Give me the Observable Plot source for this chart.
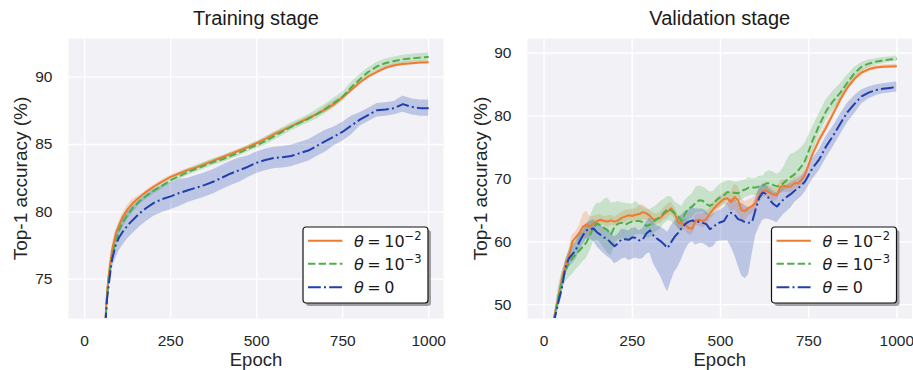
<!DOCTYPE html>
<html>
<head>
<meta charset="utf-8">
<script src="https://cdn.jsdelivr.net/npm/d3@7"></script>
<script src="https://cdn.jsdelivr.net/npm/@observablehq/plot@0.6"></script>
<style>
  html, body { margin: 0; padding: 0; background: #ffffff; }
  #wrap { display: flex; width: 913px; height: 370px; }
  #wrap svg { display: block; }
</style>
</head>
<body>
<div id="wrap"></div>
<script>
// ---------------- Data ----------------
const seriesNames = ["θ = 10^-2", "θ = 10^-3", "θ = 0"];
const seriesColors = ["#f07a2e", "#4daf4a", "#1f3fae"];
const xTicks = [0, 250, 500, 750, 1000];
const trainYTicks = [75, 80, 85, 90];
const valYTicks = [50, 60, 70, 80, 90];

// Training stage
const trainEpoch = [55, 60, 65, 70, 75, 80, 90, 100, 110, 125, 140, 160, 180, 200, 225, 250, 275, 300, 325, 350, 375, 400, 425, 450, 475, 500, 525, 550, 575, 600, 625, 650, 675, 700, 725, 750, 775, 800, 825, 850, 875, 900, 925, 950, 975, 1000];
const trainOrange = [70.0, 71.8, 73.9, 75.3, 76.3, 77.2, 78.3, 79.0, 79.6, 80.2, 80.65, 81.1, 81.5, 81.85, 82.25, 82.6, 82.85, 83.1, 83.3, 83.55, 83.8, 84.05, 84.3, 84.55, 84.8, 85.1, 85.4, 85.75, 86.05, 86.35, 86.65, 86.95, 87.25, 87.6, 88.0, 88.5, 89.05, 89.6, 90.05, 90.4, 90.7, 90.88, 90.98, 91.04, 91.08, 91.1];
const trainOrangeSpread = [0.4, 0.4, 0.4, 0.4, 0.4, 0.4, 0.3, 0.3, 0.3, 0.3, 0.3, 0.12, 0.12, 0.12, 0.12, 0.12, 0.12, 0.12, 0.12, 0.12, 0.12, 0.12, 0.12, 0.12, 0.12, 0.12, 0.12, 0.12, 0.12, 0.12, 0.12, 0.12, 0.12, 0.25, 0.25, 0.12, 0.12, 0.12, 0.12, 0.12, 0.12, 0.12, 0.12, 0.12, 0.12, 0.12];
const trainGreen = [70.0, 71.7, 73.7, 75.0, 75.9, 76.7, 77.8, 78.6, 79.2, 79.8, 80.3, 80.8, 81.2, 81.55, 81.95, 82.35, 82.65, 82.95, 83.2, 83.45, 83.7, 83.9, 84.15, 84.4, 84.7, 84.95, 85.25, 85.6, 85.95, 86.3, 86.6, 86.9, 87.25, 87.65, 88.1, 88.55, 89.25, 89.85, 90.4, 90.8, 91.05, 91.2, 91.32, 91.4, 91.45, 91.5];
const trainGreenSpread = [0.5, 0.5, 0.5, 0.5, 0.5, 0.5, 0.4, 0.4, 0.4, 0.4, 0.4, 0.25, 0.25, 0.25, 0.25, 0.25, 0.25, 0.25, 0.25, 0.25, 0.25, 0.25, 0.25, 0.25, 0.25, 0.25, 0.3, 0.3, 0.3, 0.3, 0.3, 0.3, 0.35, 0.35, 0.35, 0.35, 0.35, 0.35, 0.3, 0.3, 0.3, 0.3, 0.3, 0.3, 0.3, 0.3];
const trainBlue = [70.0, 71.6, 73.5, 74.6, 75.6, 76.5, 77.5, 78.1, 78.5, 79.0, 79.4, 79.9, 80.3, 80.65, 80.95, 81.15, 81.4, 81.6, 81.8, 82.0, 82.25, 82.55, 82.85, 83.1, 83.35, 83.65, 83.85, 84.0, 84.05, 84.15, 84.35, 84.55, 84.9, 85.25, 85.6, 85.95, 86.4, 86.85, 87.2, 87.55, 87.6, 87.7, 88.0, 87.8, 87.7, 87.7];
const trainBlueSpread = [0.6, 0.6, 0.6, 0.6, 0.6, 0.6, 1.0, 1.0, 1.0, 1.0, 1.0, 1.0, 1.0, 1.0, 1.0, 1.0, 1.0, 0.9, 0.9, 0.9, 0.9, 0.9, 0.9, 0.9, 0.8, 0.8, 0.8, 0.8, 0.8, 0.8, 0.8, 0.8, 0.8, 0.8, 0.7, 0.7, 0.7, 0.5, 0.5, 0.5, 0.5, 0.5, 0.6, 0.6, 0.6, 0.6];

// Validation stage
const valEpoch = [20, 30, 40, 50, 60, 70, 80, 90, 100, 110, 120, 130, 140, 150, 160, 170, 180, 190, 200, 210, 220, 230, 240, 250, 260, 270, 280, 290, 300, 310, 320, 330, 340, 350, 360, 370, 380, 390, 400, 410, 420, 430, 440, 450, 460, 470, 480, 490, 500, 510, 520, 530, 540, 550, 560, 570, 580, 590, 600, 610, 620, 630, 640, 650, 660, 670, 680, 690, 700, 710, 720, 730, 740, 760, 780, 800, 820, 840, 860, 880, 900, 920, 940, 960, 980, 1000];
const valOrange = [44.0, 48.3, 51.0, 54.0, 56.0, 57.6, 60.0, 60.7, 61.4, 62.4, 62.7, 62.4, 62.9, 63.3, 63.5, 63.3, 63.2, 63.4, 63.2, 63.4, 63.8, 64.0, 64.2, 64.1, 64.3, 64.4, 64.7, 64.5, 64.1, 63.5, 63.6, 63.8, 64.4, 64.8, 65.3, 64.6, 63.1, 62.9, 62.7, 62.2, 62.1, 63.4, 63.5, 63.3, 63.6, 64.5, 65.2, 65.8, 66.3, 66.8, 66.9, 66.3, 67.1, 66.6, 65.0, 64.9, 65.4, 65.7, 66.2, 67.4, 68.0, 68.1, 67.8, 67.5, 67.4, 68.7, 68.9, 68.7, 68.8, 69.3, 69.3, 69.8, 70.7, 73.8, 76.2, 78.2, 80.4, 82.6, 84.5, 85.9, 86.9, 87.4, 87.7, 87.8, 87.85, 87.9];
const valOrangeSpread = [0.3, 0.4, 0.7, 0.9, 0.8, 1.0, 1.1, 0.9, 1.2, 1.9, 2.2, 1.6, 1.1, 0.9, 0.8, 0.7, 0.9, 0.8, 0.7, 0.9, 0.8, 1.0, 0.8, 1.1, 0.9, 1.3, 1.2, 1.0, 0.9, 1.0, 0.8, 0.9, 1.0, 1.1, 1.0, 0.9, 1.1, 1.0, 0.9, 1.1, 1.0, 0.9, 1.0, 1.1, 1.0, 0.9, 1.1, 1.0, 1.0, 0.9, 1.1, 1.5, 2.0, 2.2, 1.8, 1.5, 1.3, 1.2, 1.1, 1.0, 1.1, 0.9, 1.0, 1.1, 0.9, 1.0, 1.0, 0.9, 1.0, 0.9, 1.0, 0.9, 0.8, 0.7, 0.6, 0.6, 0.6, 0.5, 0.5, 0.4, 0.4, 0.4, 0.3, 0.3, 0.3, 0.3];
const valGreen = [44.0, 48.2, 51.2, 53.5, 55.3, 56.6, 57.4, 58.0, 58.6, 59.2, 59.9, 61.0, 62.3, 62.9, 62.6, 62.2, 61.8, 61.2, 62.4, 62.9, 63.0, 62.7, 63.0, 63.2, 63.3, 63.3, 63.1, 62.5, 62.7, 63.2, 63.6, 64.0, 64.6, 65.2, 65.0, 64.5, 64.0, 63.3, 64.5, 65.3, 65.6, 66.2, 66.6, 66.5, 66.0, 65.7, 66.0, 66.7, 67.1, 67.4, 67.9, 67.8, 67.8, 67.7, 68.1, 68.3, 68.6, 68.6, 68.6, 68.8, 68.9, 69.3, 69.3, 69.0, 68.8, 68.9, 69.4, 69.9, 70.3, 70.7, 71.3, 72.0, 72.9, 75.9, 78.5, 80.8, 82.4, 83.7, 85.3, 86.8, 87.8, 88.3, 88.6, 88.8, 88.95, 89.1];
const valGreenUp = [0.5, 0.6, 1.5, 1.6, 1.5, 2.0, 2.2, 2.0, 2.5, 2.4, 2.6, 2.8, 3.0, 3.2, 3.5, 4.5, 5.2, 5.0, 3.8, 3.5, 3.2, 3.4, 3.0, 2.8, 3.1, 2.6, 2.4, 2.7, 2.4, 2.3, 2.2, 2.4, 2.1, 2.0, 2.2, 1.9, 2.0, 2.3, 2.1, 1.9, 2.0, 2.4, 2.3, 2.2, 2.4, 2.2, 2.0, 1.9, 2.1, 2.0, 1.8, 1.9, 1.7, 1.8, 1.6, 1.5, 1.6, 1.4, 1.5, 1.6, 1.5, 1.8, 2.0, 2.1, 1.9, 2.2, 2.5, 3.2, 3.6, 3.4, 3.2, 3.0, 2.8, 2.2, 1.9, 1.8, 1.6, 1.4, 1.2, 0.9, 0.7, 0.6, 0.5, 0.5, 0.4, 0.4];
const valGreenDown = [0.5, 0.6, 1.5, 1.6, 1.8, 2.4, 2.6, 2.5, 2.5, 2.4, 2.6, 2.5, 2.4, 2.6, 2.8, 3.2, 3.6, 3.4, 3.0, 2.6, 2.5, 2.4, 2.6, 2.4, 2.2, 2.1, 2.0, 1.9, 2.1, 2.0, 1.9, 2.0, 1.8, 1.9, 1.7, 1.8, 1.9, 1.7, 1.8, 1.9, 1.8, 1.7, 1.9, 1.8, 1.7, 1.8, 1.6, 1.5, 1.6, 1.5, 1.4, 1.6, 1.5, 1.4, 1.5, 1.3, 1.4, 1.2, 1.3, 1.3, 1.2, 1.4, 1.3, 1.2, 1.3, 1.2, 1.3, 1.2, 1.2, 1.1, 1.2, 1.3, 1.4, 1.6, 1.5, 1.5, 1.4, 1.3, 1.1, 0.9, 0.7, 0.6, 0.5, 0.5, 0.4, 0.4];
const valBlue = [43.5, 47.8, 50.3, 52.5, 55.8, 57.3, 58.0, 58.7, 60.0, 61.0, 61.8, 62.0, 62.1, 61.5, 61.1, 60.7, 60.4, 59.8, 59.3, 59.8, 60.4, 60.4, 60.3, 60.7, 60.6, 60.2, 60.4, 61.3, 61.8, 61.0, 60.5, 60.1, 59.6, 59.0, 59.9, 60.8, 61.4, 62.2, 62.8, 63.2, 63.4, 63.1, 63.2, 63.0, 62.8, 62.0, 62.3, 62.9, 63.1, 63.3, 64.2, 64.6, 64.3, 63.6, 63.4, 63.1, 63.0, 63.2, 65.2, 67.0, 67.8, 67.6, 66.6, 66.0, 65.6, 66.2, 66.8, 67.2, 67.6, 68.1, 68.5, 69.0, 69.6, 71.6, 73.1, 75.2, 76.9, 78.8, 80.6, 81.9, 83.1, 83.7, 84.1, 84.3, 84.45, 84.6];
const valBlueUp = [0.5, 0.6, 1.0, 1.0, 1.1, 1.0, 1.2, 1.2, 1.3, 1.2, 1.1, 1.2, 1.4, 1.5, 1.6, 1.5, 1.7, 1.6, 1.5, 1.4, 1.6, 1.5, 1.4, 1.5, 1.6, 1.5, 1.7, 1.8, 2.0, 2.1, 2.0, 2.2, 2.4, 2.5, 2.6, 2.4, 2.3, 2.1, 2.0, 1.9, 2.0, 2.1, 2.0, 2.2, 2.1, 2.0, 2.1, 1.9, 2.0, 2.1, 2.0, 2.2, 2.4, 2.5, 2.7, 2.6, 2.4, 2.2, 1.8, 1.5, 1.4, 1.5, 1.8, 2.0, 2.1, 2.0, 1.9, 1.8, 1.7, 1.6, 1.5, 1.5, 1.6, 1.6, 1.5, 1.6, 1.5, 1.5, 1.4, 1.3, 1.0, 0.9, 0.8, 0.8, 0.8, 0.8];
const valBlueDown = [0.5, 0.6, 1.2, 1.2, 1.3, 1.4, 1.5, 1.5, 1.6, 1.5, 1.4, 1.6, 2.0, 2.3, 2.5, 2.6, 2.8, 2.6, 2.8, 3.0, 3.2, 3.0, 3.3, 3.5, 3.2, 3.0, 3.1, 3.3, 3.6, 4.5, 5.0, 5.6, 6.4, 7.0, 6.2, 5.6, 5.4, 5.0, 4.2, 3.6, 3.4, 3.6, 3.5, 3.3, 3.4, 3.0, 3.1, 2.9, 3.0, 3.2, 4.0, 5.4, 6.4, 7.4, 8.8, 9.0, 8.2, 5.2, 4.2, 4.6, 4.4, 4.0, 3.1, 2.7, 2.6, 2.5, 2.4, 2.3, 2.2, 1.9, 1.8, 1.8, 1.7, 1.8, 1.8, 1.9, 1.8, 1.8, 1.7, 1.6, 1.2, 1.0, 0.9, 0.8, 0.8, 0.8];

// ---------------- Helpers ----------------
function rows(epochs, mean, up, down) {
  return epochs.map((e, i) => ({ epoch: e, mean: mean[i], lo: mean[i] - down[i], hi: mean[i] + up[i] }));
}
const dashes = [null, "7.4,3.2", "12.8,3.2,2,3.2"];
const FONT = "'Liberation Sans', Arial, Helvetica, sans-serif";

function panel(cfg) {
  const marks = [
    Plot.frame({ fill: "#f2f2f6", stroke: null }),
    Plot.gridX(xTicks, { stroke: "#ffffff", strokeOpacity: 1, strokeWidth: 1.4 }),
    Plot.gridY(cfg.yTicks, { stroke: "#ffffff", strokeOpacity: 1, strokeWidth: 1.4 }),
    Plot.axisX(xTicks, { tickSize: 0, tickPadding: 16, tickFormat: d => String(d), label: null, fontSize: 15.5, fill: "#262626" }),
    Plot.axisY(cfg.yTicks, { tickSize: 0, tickPadding: 16, tickFormat: d => String(d), label: null, fontSize: 15.5, fill: "#262626" })
  ];
  cfg.series.forEach((s, i) => {
    marks.push(Plot.areaY(s, { x: "epoch", y1: "lo", y2: "hi", fill: seriesColors[i], fillOpacity: 0.25, curve: "linear", clip: true }));
  });
  cfg.series.forEach((s, i) => {
    marks.push(Plot.lineY(s, {
      x: "epoch", y: "mean", stroke: seriesColors[i], strokeWidth: 2,
      strokeDasharray: dashes[i], strokeLinecap: "butt", strokeLinejoin: "round", clip: true
    }));
  });
  marks.push(Plot.text([cfg.title], { frameAnchor: "top", textAnchor: "middle", lineAnchor: "middle", dy: -20, fontSize: 20, fill: "#1a1a1a", fontFamily: FONT }));
  marks.push(Plot.text(["Epoch"], { frameAnchor: "bottom", textAnchor: "middle", lineAnchor: "middle", dy: 41.5, fontSize: 18.5, fill: "#262626", fontFamily: FONT }));
  marks.push(Plot.text(["Top-1 accuracy (%)"], { frameAnchor: "left", textAnchor: "middle", lineAnchor: "middle", dx: cfg.ylabelDx, rotate: -90, fontSize: 19, fill: "#262626", fontFamily: FONT }));

  const svg = Plot.plot({
    width: cfg.width, height: 370,
    marginLeft: cfg.marginLeft, marginRight: cfg.marginRight, marginTop: 38, marginBottom: 52,
    x: { domain: [-47, 1043] },
    y: { domain: cfg.yDomain },
    style: { fontFamily: FONT, fontSize: "15.5px", color: "#262626", background: "transparent", overflow: "visible" },
    marks
  });
  addLegend(svg, cfg.width - cfg.marginRight - 15 - 125, 370 - 52 - 15 - 76);
  return svg;
}

function addLegend(svg, bx, by) {
  const g = d3.select(svg).append("g").attr("transform", `translate(${bx},${by})`);
  g.append("rect").attr("x", 3).attr("y", 3).attr("width", 125).attr("height", 76).attr("rx", 3)
    .attr("fill", "#000").attr("fill-opacity", 0.35);
  g.append("rect").attr("x", 0).attr("y", 0).attr("width", 125).attr("height", 76).attr("rx", 3)
    .attr("fill", "#ffffff").attr("stroke", "#111").attr("stroke-width", 1.2);
  const rowY = [13.7, 36.7, 60.2];
  const exps = ["−2", "−3", null];
  rowY.forEach((yy, i) => {
    g.append("line").attr("x1", 5).attr("x2", 39.4).attr("y1", yy).attr("y2", yy)
      .attr("stroke", seriesColors[i]).attr("stroke-width", 2)
      .attr("stroke-dasharray", dashes[i]).attr("stroke-linecap", "butt");
    const t = g.append("text").attr("x", 51).attr("y", yy + 6).attr("text-anchor", "start")
      .attr("font-family", "'DejaVu Sans', sans-serif").attr("font-size", 16).attr("fill", "#1a1a1a");
    t.append("tspan").attr("font-style", "italic").text("θ");
    t.append("tspan").attr("dx", 3.5).text("=");
    t.append("tspan").attr("dx", 3.5).text(exps[i] ? "10" : "0");
    if (exps[i]) t.append("tspan").attr("dy", -7).attr("font-size", 11.5).text(exps[i]);
  });
}

const trainSeries = [
  rows(trainEpoch, trainOrange, trainOrangeSpread, trainOrangeSpread),
  rows(trainEpoch, trainGreen, trainGreenSpread, trainGreenSpread),
  rows(trainEpoch, trainBlue, trainBlueSpread, trainBlueSpread)
];
const valSeries = [
  rows(valEpoch, valOrange, valOrangeSpread, valOrangeSpread),
  rows(valEpoch, valGreen, valGreenUp, valGreenDown),
  rows(valEpoch, valBlue, valBlueUp, valBlueDown)
];

const wrap = document.getElementById("wrap");
wrap.appendChild(panel({
  title: "Training stage", width: 456, marginLeft: 68, marginRight: 13,
  yDomain: [72.08, 92.87], yTicks: trainYTicks, series: trainSeries, ylabelDx: -48
}));
wrap.appendChild(panel({
  title: "Validation stage", width: 457, marginLeft: 71, marginRight: 1.5,
  yDomain: [47.8, 92.3], yTicks: valYTicks, series: valSeries, ylabelDx: -47
}));
</script>
</body>
</html>
